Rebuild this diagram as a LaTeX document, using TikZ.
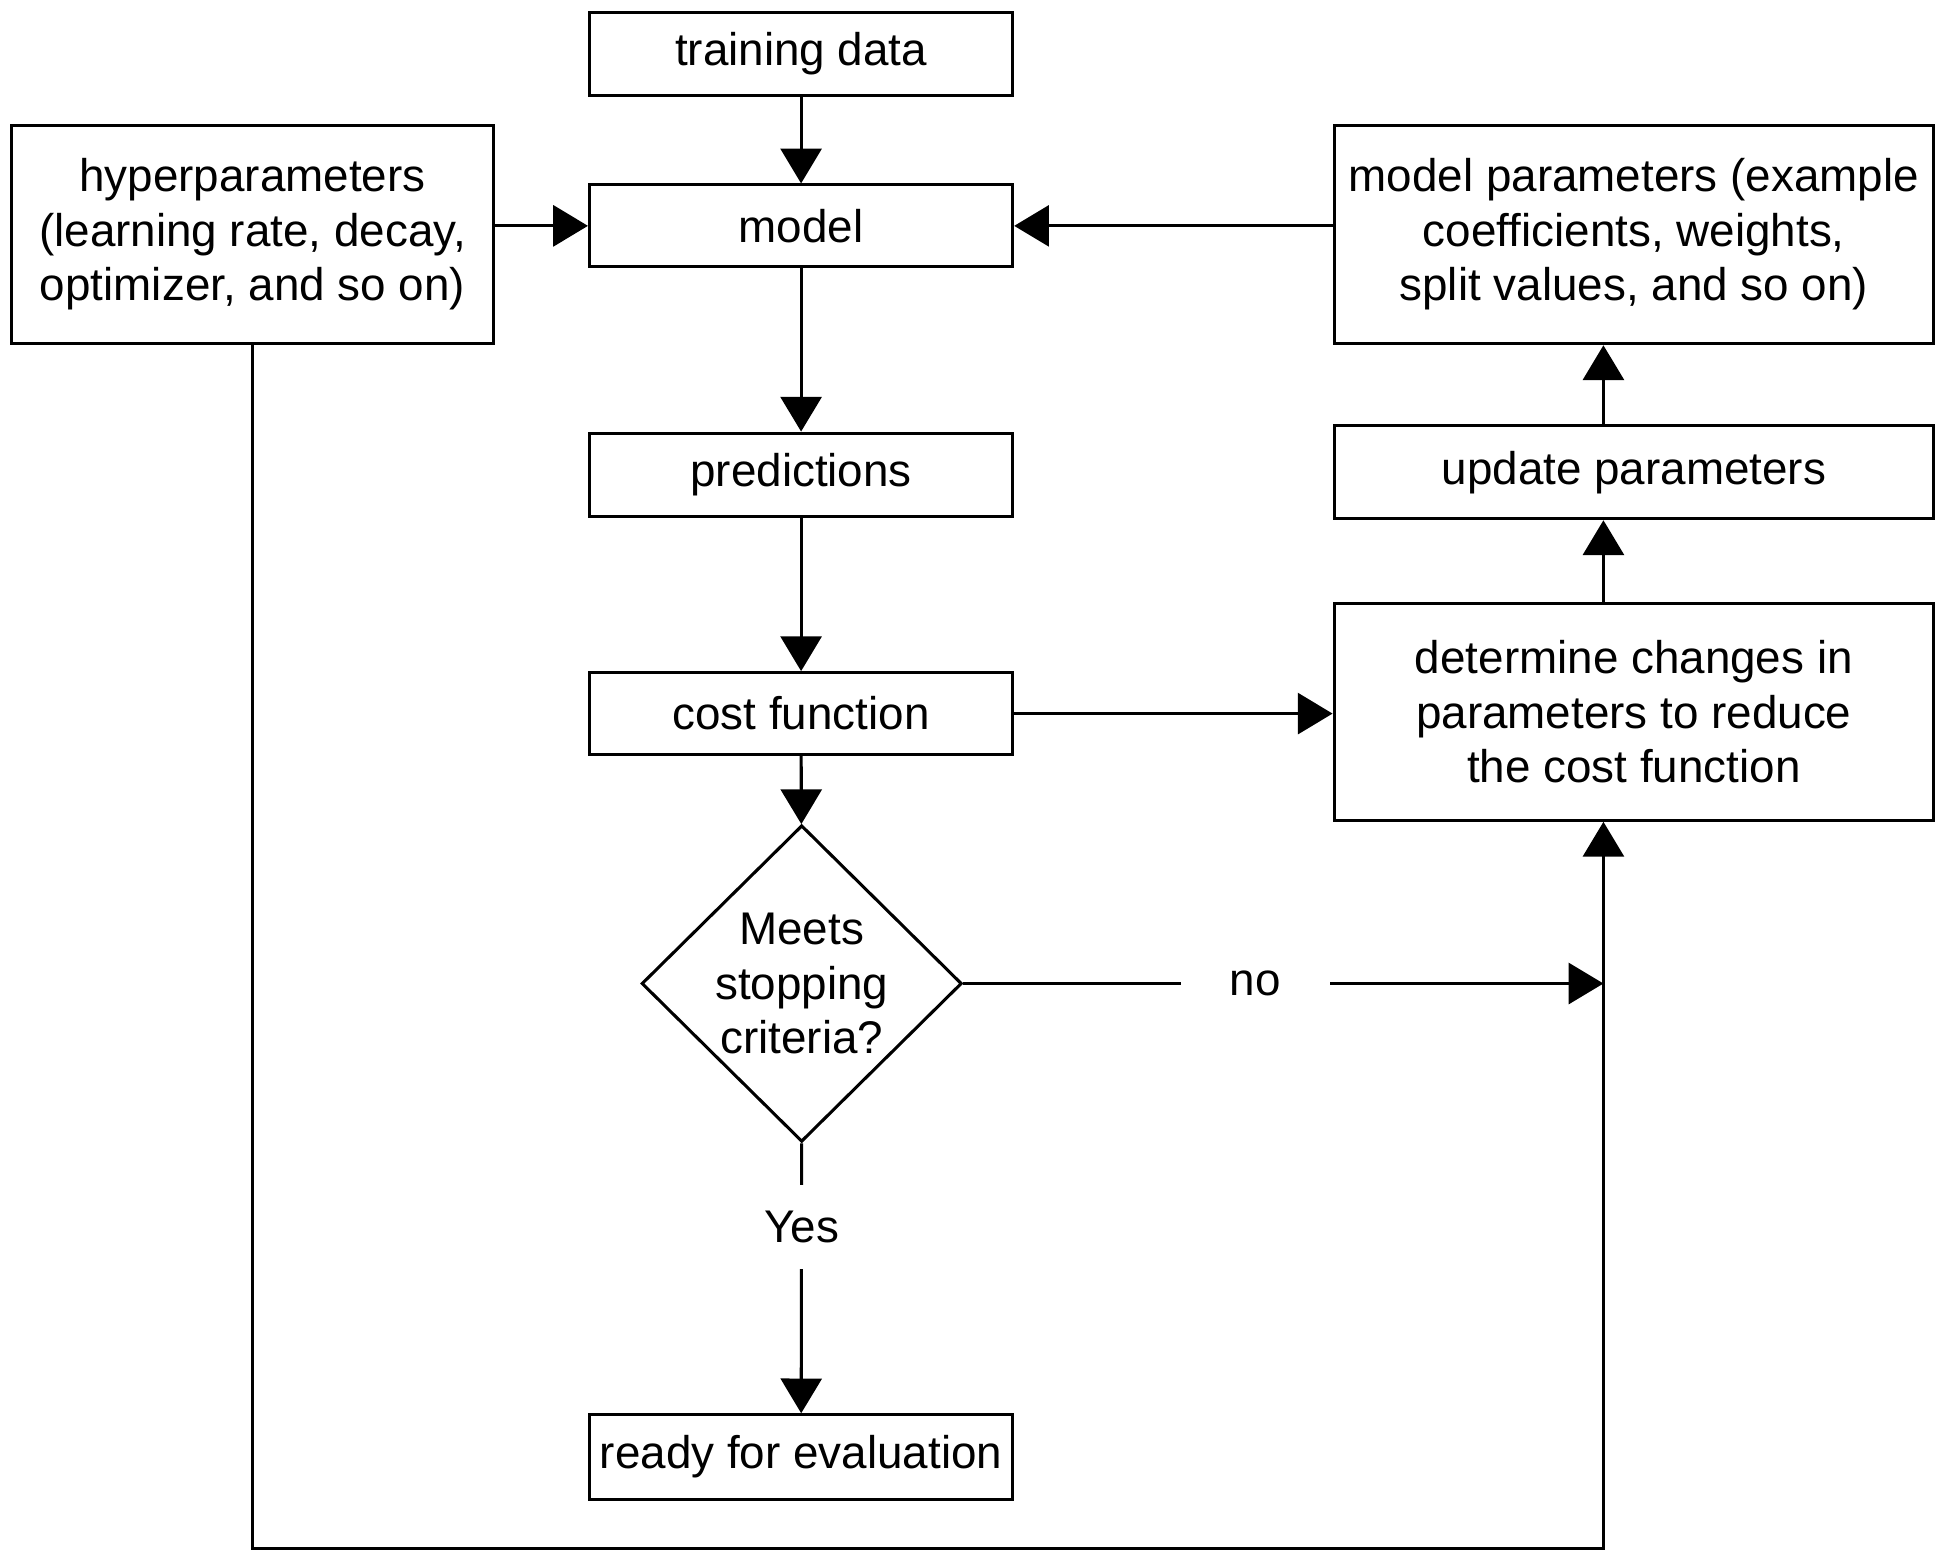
\documentclass[tikz,border=0pt]{standalone}
\usepackage{fontspec}
\setmainfont{Liberation Sans}
\usetikzlibrary{arrows.meta,shapes.geometric}

\begin{document}
\begin{tikzpicture}[
    font=\fontsize{10.5pt}{12.5pt}\selectfont,
    line width=0.7pt,
    box/.style={draw, rectangle, align=center, inner sep=0pt},
    arr/.style={-{Triangle[length=2.8mm,width=3.3mm]}},
    gap/.style={fill=white, inner sep=0pt}]
    \useasboundingbox (0,0) rectangle (15.6,-12.53);

    \node[box, minimum width=3.41cm, minimum height=0.67cm] (train) at (6.455,-0.435) {training data};
    \node[box, minimum width=3.41cm, minimum height=0.66cm] (model) at (6.455,-1.82) {model};
    \node[box, minimum width=3.41cm, minimum height=0.67cm] (pred) at (6.455,-3.825) {predictions};
    \node[box, minimum width=3.41cm, minimum height=0.66cm] (cost) at (6.455,-5.75) {cost function};
    \node[draw, diamond, align=center, inner sep=-0.5mm, minimum width=2.58cm, minimum height=2.55cm] (crit) at (6.46,-7.925) {Meets\\stopping\\criteria?};
    \node[box, minimum width=3.41cm, minimum height=0.68cm] (ready) at (6.455,-11.74) {ready for evaluation};

    \node[box, minimum width=3.89cm, minimum height=1.76cm] (hyper) at (2.035,-1.89) {hyperparameters\\(learning rate, decay,\\optimizer, and so on)};
    \node[box, minimum width=4.83cm, minimum height=1.76cm] (mparams) at (13.165,-1.89) {model parameters (example\\coefficients, weights,\\split values, and so on)};
    \node[box, minimum width=4.83cm, minimum height=0.75cm] (update) at (13.165,-3.805) {update parameters};
    \node[box, minimum width=4.83cm, minimum height=1.75cm] (determine) at (13.165,-5.735) {determine changes in\\parameters to reduce\\the cost function};

    \coordinate (base) at (12.92,-12.48);

    \draw[arr] (train) -- (model);
    \draw[arr] (hyper.east |- model.west) -- (model.west);
    \draw[arr] (mparams.west |- model.east) -- (model.east);
    \draw[arr] (model) -- (pred);
    \draw[arr] (pred) -- (cost);
    \draw[arr] (cost) -- (crit);
    \draw[arr] (cost.east) -- (cost.east -| determine.west);
    \draw[arr] (hyper.south) |- (base) -- (base |- determine.south);
    \draw[arr] (crit.east) -- node[gap, pos=0.456, minimum width=1.2cm]{no} (crit.east -| base);
    \draw[arr] (crit.south) -- node[gap, pos=0.31, minimum height=0.67cm]{Yes} (ready);
    \draw[arr] (base |- determine.north) -- (base |- update.south);
    \draw[arr] (base |- update.north) -- (base |- mparams.south);
\end{tikzpicture}
\end{document}
